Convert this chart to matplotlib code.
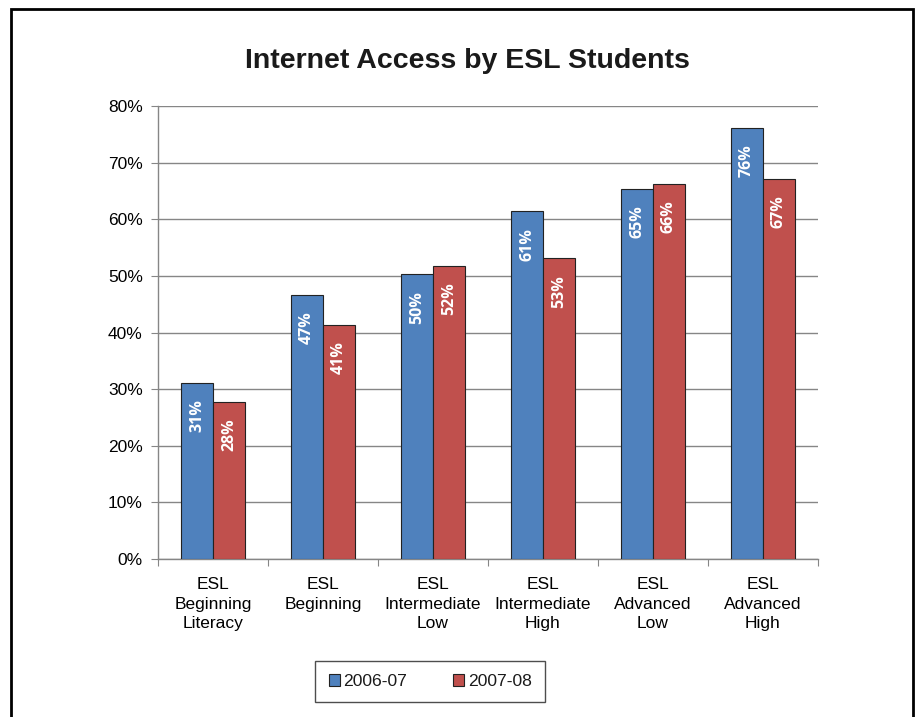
import matplotlib.pyplot as plt
import numpy as np
from matplotlib.patches import Rectangle

plt.rcParams['font.family'] = ['Liberation Sans', 'DejaVu Sans']

levels = ['ESL\nBeginning\nLiteracy', 'ESL\nBeginning', 'ESL\nIntermediate\nLow',
          'ESL\nIntermediate\nHigh', 'ESL\nAdvanced\nLow', 'ESL\nAdvanced\nHigh']
year_0607 = [0.311, 0.466, 0.503, 0.614, 0.653, 0.761]
year_0708 = [0.277, 0.414, 0.517, 0.531, 0.662, 0.672]
series_names = ['2006-07', '2007-08']
colors = ['#4F81BD', '#C0504D']

fig = plt.figure(figsize=(9.17, 7.17), dpi=100)
ax = fig.add_axes([0.1723, 0.2204, 0.7197, 0.6316])

x = np.arange(len(levels))
w = 0.29
for k, (vals, name, c) in enumerate(zip([year_0607, year_0708], series_names, colors)):
    pos = x + (k - 0.5) * w
    ax.bar(pos, vals, w, color=c, edgecolor='#222222', linewidth=0.8, label=name, zorder=3)
    for p, v in zip(pos, vals):
        ax.text(p, v - 0.029, '{:.0f}%'.format(v * 100), rotation=90, ha='center', va='top',
                color='white', fontweight='bold', fontsize=11.5,
                family=['Open Sans', 'DejaVu Sans'], zorder=4)

ax.set_xlim(-0.5, len(levels) - 0.5)
ax.set_ylim(0, 0.8)
ax.set_yticks(np.arange(0, 0.81, 0.1))
ax.set_yticklabels(['{:.0f}%'.format(t * 100) for t in np.arange(0, 0.81, 0.1)])
ax.yaxis.grid(True, color='#868686', linewidth=1, zorder=0)
ax.set_axisbelow(True)

# ticks between the category groups
ax.set_xticks(np.arange(-0.5, len(levels), 1.0))
ax.set_xticklabels([])
ax.set_xticks(x, minor=True)
ax.set_xticklabels(levels, minor=True, fontsize=12.5, linespacing=1.38)
ax.tick_params(axis='x', which='minor', length=0, pad=13)
ax.tick_params(axis='x', which='major', length=5, color='#868686', direction='out')
ax.tick_params(axis='y', length=5, color='#868686', labelsize=12.5, pad=6)

for s in ['top', 'right']:
    ax.spines[s].set_visible(False)
for s in ['left', 'bottom']:
    ax.spines[s].set_color('#868686')
    ax.spines[s].set_linewidth(1)

fig.text(0.510, 0.915, 'Internet Access by ESL Students', ha='center', va='center',
         fontsize=20.5, fontweight='bold', color='#1a1a1a')

leg = fig.legend(loc='center', bbox_to_anchor=(0.469, 0.049), ncol=2, fontsize=12.6,
                 frameon=True, fancybox=False, edgecolor='#222222', handlelength=0.65,
                 handleheight=0.65, handletextpad=0.2, columnspacing=2.6,
                 borderpad=0.75, borderaxespad=0)
leg.get_frame().set_linewidth(1)
for t in leg.get_texts():
    t.set_color('#1a1a1a')

# page border
fig.patches.append(Rectangle((11 / 917, -0.05), 902 / 917, 1.05 - 9 / 717,
                             transform=fig.transFigure, fill=False,
                             edgecolor='black', linewidth=2, clip_on=False))

fig.savefig('out.png', dpi=100)
